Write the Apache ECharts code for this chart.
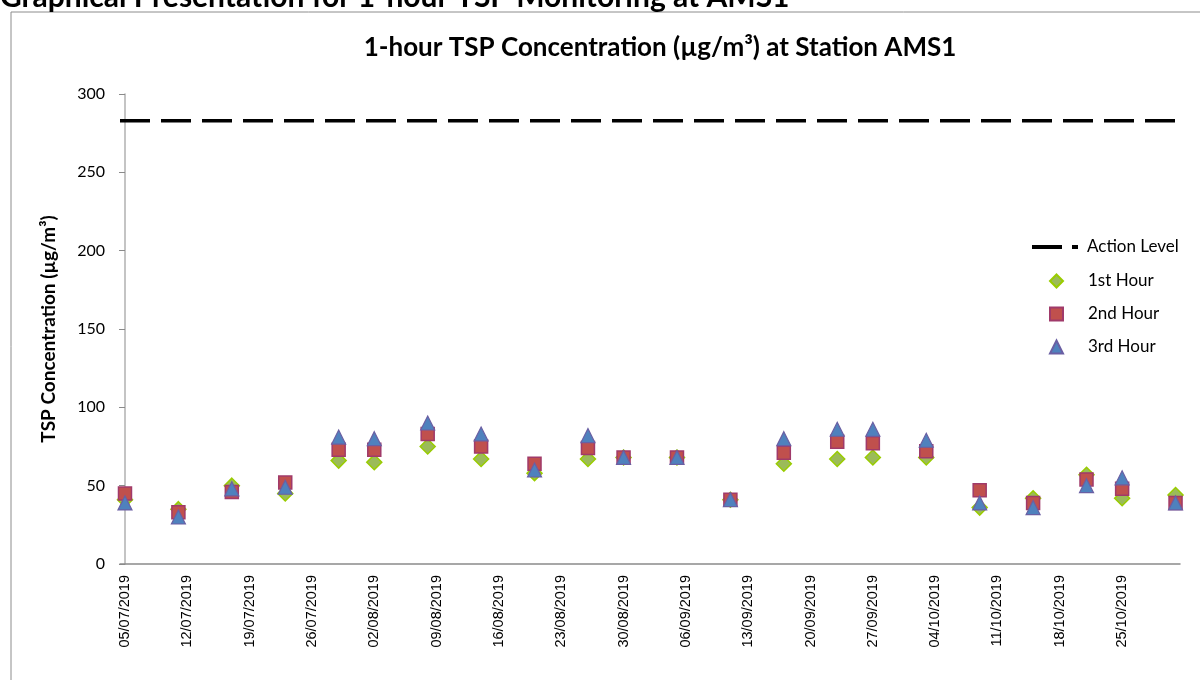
<!DOCTYPE html>
<html>
<head>
<meta charset="utf-8">
<script src="https://cdn.jsdelivr.net/npm/echarts@6/dist/echarts.min.js"></script>
<style>html,body{margin:0;padding:0;background:#fff}#c{width:1200px;height:680px}</style>
</head>
<body>
<div id="c"></div>
<script>
// ---- data ----
const dates = ['05/07/2019','11/07/2019','17/07/2019','23/07/2019','29/07/2019','02/08/2019','08/08/2019',
  '14/08/2019','20/08/2019','26/08/2019','30/08/2019','05/09/2019','11/09/2019','17/09/2019','23/09/2019',
  '27/09/2019','03/10/2019','09/10/2019','15/10/2019','21/10/2019','25/10/2019','31/10/2019'];
const hour1 = [41,35,50,45,66,65,75,67,58,67,68,68,41,64,67,68,68,36,42,57,42,44];
const hour2 = [45,33,46,52,73,73,83,75,64,74,68,68,41,71,78,77,72,47,39,54,48,39];
const hour3 = [39,30,48,49,81,80,90,83,60,82,68,68,41,80,86,86,79,39,36,50,55,39];
const actionLevel = 283;
const tickDates = ['05/07/2019','12/07/2019','19/07/2019','26/07/2019','02/08/2019','09/08/2019','16/08/2019',
  '23/08/2019','30/08/2019','06/09/2019','13/09/2019','20/09/2019','27/09/2019','04/10/2019','11/10/2019',
  '18/10/2019','25/10/2019'];

// ---- helpers ----
function toDay(s){const p=s.split('/');return Date.UTC(+p[2],+p[1]-1,+p[0])/86400000;}
const day0 = toDay(dates[0]);
const dayOf = s => toDay(s) - day0;
function fmt(d){const t=new Date((d+day0)*86400000);const dd=String(t.getUTCDate()).padStart(2,'0');const mm=String(t.getUTCMonth()+1).padStart(2,'0');return dd+'/'+mm+'/'+t.getUTCFullYear();}
const xMin = -0.56, xMax = 118.5;
const pts = arr => dates.map((d,i)=>[dayOf(d), arr[i]]);

const chart = echarts.init(document.getElementById('c'), null, {renderer:'canvas'});
const font = 'Lato, "Open Sans", sans-serif';
chart.setOption({
  animation:false,
  backgroundColor:'#fff',
  graphic:[
    {type:'rect', shape:{x:11,y:12,width:1200,height:680}, style:{fill:'none', stroke:'#8c8c8c', lineWidth:1}},
    {type:'text', x:0, y:12, style:{text:'Graphical Presentation for 1-hour TSP Monitoring at AMS1', font:'bold 30px '+font, fill:'#000', verticalAlign:'bottom'}},
    {type:'text', x:660, y:48, style:{text:'1-hour TSP Concentration (µg/m³) at Station AMS1', font:'bold 26px '+font, fill:'#000', align:'center', verticalAlign:'middle'}}
  ],
  grid:{left:120, right:20, top:94, bottom:116},
  xAxis:{
    type:'value', min:xMin, max:xMax,
    splitLine:{show:false},
    axisLine:{lineStyle:{color:'#8a8a8a', width:1.5}},
    axisTick:{show:false},
    axisLabel:{customValues:tickDates.map(dayOf), formatter:v=>fmt(Math.round(v)), rotate:90, fontFamily:'"Liberation Sans", Arial, sans-serif', fontSize:14.5, color:'#000', margin:11}
  },
  yAxis:{
    type:'value', min:0, max:300, interval:50,
    name:'TSP Concentration (µg/m³)', nameLocation:'middle', nameGap:62, nameRotate:90,
    nameTextStyle:{fontFamily:font, fontWeight:'bold', fontSize:19, color:'#000'},
    splitLine:{show:false},
    axisLine:{show:true, lineStyle:{color:'#b0b0b0', width:1.5}},
    axisTick:{show:true, length:6, lineStyle:{color:'#8a8a8a'}},
    axisLabel:{fontFamily:font, fontSize:16, color:'#000', margin:15}
  },
  legend:[
    {orient:'vertical', left:1032, top:237, padding:0, itemWidth:46, itemHeight:4,
     textStyle:{fontFamily:font, fontSize:17, color:'#000', lineHeight:20, padding:[0,0,0,4]},
     data:[{name:'Action Level', icon:'path://M0 0H30V4H0Z M40 0H46V4H40Z', itemStyle:{color:'#000'}}]},
    {orient:'vertical', left:1049, top:271, padding:0, itemWidth:13, itemHeight:13, itemGap:13,
     textStyle:{fontFamily:font, fontSize:17, color:'#000', lineHeight:20, padding:[0,0,0,20]},
     data:['1st Hour','2nd Hour','3rd Hour']}
  ],
  series:[
    {name:'Action Level', type:'line', data:[[xMin,actionLevel],[xMax,actionLevel]], symbol:'none', showSymbol:false,
     lineStyle:{color:'#000', width:3.5, type:[30,11]}, itemStyle:{color:'#000'}, silent:true},
    {name:'1st Hour', type:'scatter', data:pts(hour1), symbol:'diamond', symbolSize:[15,15],
     itemStyle:{color:'#9bbb59', borderColor:'#99cc00', borderWidth:1.5, opacity:1}},
    {name:'2nd Hour', type:'scatter', data:pts(hour2), symbol:'rect', symbolSize:[13,13],
     itemStyle:{color:'#c0504d', borderColor:'#a03a6a', borderWidth:1.5, opacity:1}},
    {name:'3rd Hour', type:'scatter', data:pts(hour3), symbol:'triangle', symbolSize:[14,14],
     itemStyle:{color:'#4f81bd', borderColor:'#6a5fa3', borderWidth:1.2, opacity:1}}
  ]
});
</script>
</body>
</html>
